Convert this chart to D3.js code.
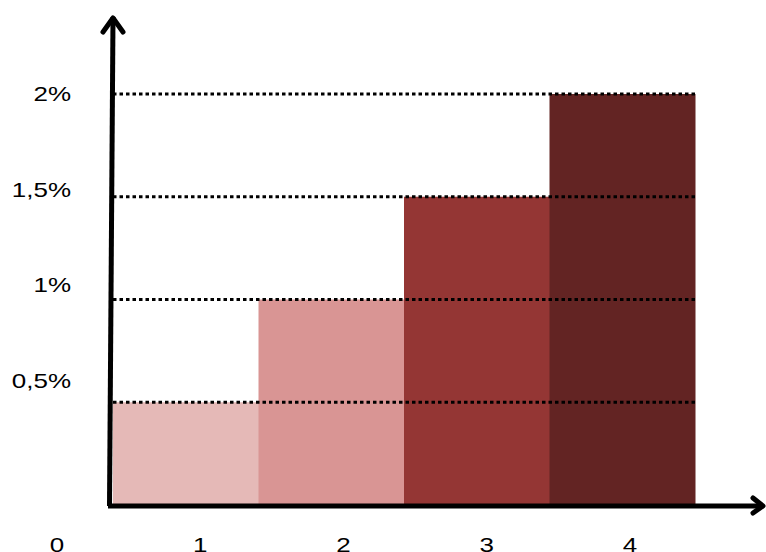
<!DOCTYPE html>
<html>
<head>
<meta charset="utf-8">
<script src="https://cdn.jsdelivr.net/npm/d3@7"></script>
<style>
  body { margin: 0; background: #fff; }
  text { font-family: "Liberation Sans", Arial, sans-serif; font-size: 20px; fill: #000; }
</style>
</head>
<body>
<svg></svg>
<script>
let width = 766;
let height = 552;

//data
const categories = [1, 2, 3, 4];
const values = [0.5, 1, 1.5, 2];
const colors = ["#E5B9B7", "#D99594", "#943634", "#632423"];
const yTicks = [0.5, 1, 1.5, 2];
const yTickLabels = ["0,5%", "1%", "1,5%", "2%"];
const xTicks = [0, 1, 2, 3, 4];

const svg = d3.select("svg")
  .attr("width", width)
  .attr("height", height);

//scales
const xScale = d3.scaleBand()
  .domain(categories)
  .range([113, 695])
  .padding(0);
const yScale = d3.scaleLinear()
  .domain([0, 2])
  .range([505, 94]);
// labels sit on their own spacing in the picture
const yLabelScale = d3.scaleLinear()
  .domain([0.5, 2])
  .range([388, 101]);
const xLabelScale = d3.scaleLinear()
  .domain([0, 4])
  .range([57, 630]);
// the text in the picture is stretched sideways
const stretch = 1.3;

//bars
svg.selectAll("rect.bar")
  .data(values)
  .enter()
  .append("rect")
  .attr("class", "bar")
  .attr("x", (d, i) => xScale(categories[i]))
  .attr("y", (d) => yScale(d))
  .attr("width", xScale.bandwidth() + 0.5)
  .attr("height", (d) => yScale(0) - yScale(d))
  .attr("fill", (d, i) => colors[i]);

//dotted grid lines
svg.selectAll("line.grid")
  .data(yTicks)
  .enter()
  .append("line")
  .attr("class", "grid")
  .attr("x1", xScale.range()[0])
  .attr("x2", xScale.range()[1])
  .attr("y1", (d) => yScale(d))
  .attr("y2", (d) => yScale(d))
  .attr("stroke", "#000")
  .attr("stroke-width", 3)
  .attr("stroke-dasharray", "3.5,3");

//axes (hand drawn look)
const x0 = xScale.range()[0];
const y0 = yScale(0);
svg.append("path")
  .attr("d", `M${x0 - 3.5},${y0 + 1} L${x0},${17}`)
  .attr("stroke", "#000")
  .attr("stroke-width", 5)
  .attr("fill", "none");
svg.append("path")
  .attr("d", `M${x0 - 10},${32} L${x0},${18} L${x0 + 10},${32}`)
  .attr("stroke", "#000")
  .attr("stroke-width", 5)
  .attr("stroke-linecap", "round")
  .attr("stroke-linejoin", "round")
  .attr("fill", "none");
svg.append("path")
  .attr("d", `M${x0 - 5},${y0 + 1} L${763},${y0 + 1}`)
  .attr("stroke", "#000")
  .attr("stroke-width", 5)
  .attr("fill", "none");
svg.append("path")
  .attr("d", `M${753},${y0 - 7} L${763},${y0 + 1} L${753},${y0 + 8}`)
  .attr("stroke", "#000")
  .attr("stroke-width", 5)
  .attr("stroke-linecap", "round")
  .attr("stroke-linejoin", "round")
  .attr("fill", "none");

//y labels
svg.selectAll("text.ylabel")
  .data(yTicks)
  .enter()
  .append("text")
  .attr("class", "ylabel")
  .attr("transform", (d) => `translate(71, ${yLabelScale(d)}) scale(${stretch}, 1)`)
  .attr("text-anchor", "end")
  .text((d, i) => yTickLabels[i]);

//x labels
svg.selectAll("text.xlabel")
  .data(xTicks)
  .enter()
  .append("text")
  .attr("class", "xlabel")
  .attr("transform", (d) => `translate(${xLabelScale(d)}, 552) scale(${stretch}, 1)`)
  .attr("text-anchor", "middle")
  .text((d) => d);
</script>
</body>
</html>
